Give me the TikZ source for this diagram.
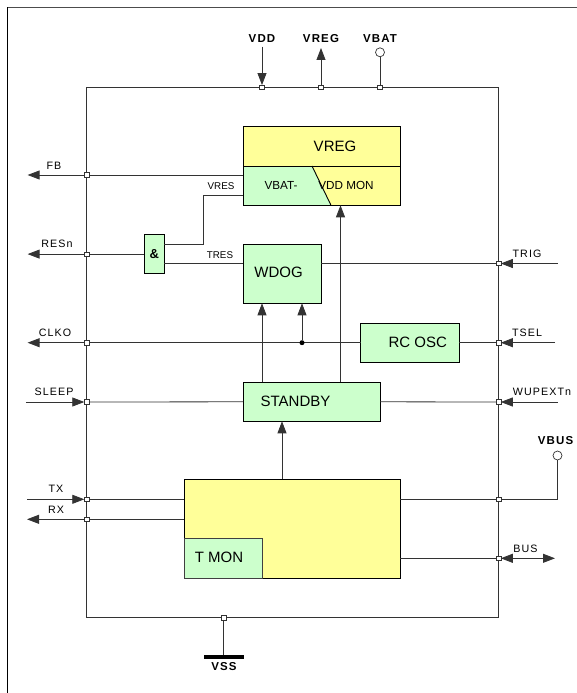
\documentclass[tikz,border=0pt]{standalone}
\usepackage{fontspec}
\setmainfont{Liberation Sans}
\newfontfamily\spacedfont[LetterSpace=10]{Liberation Sans}
\usetikzlibrary{arrows.meta,positioning,calc}
\definecolor{lemon}{HTML}{FFFF99}
\definecolor{mint}{HTML}{CCFFCC}
\definecolor{wire}{HTML}{333333}
\tikzset{
  block/.style={rectangle,draw=black,line width=0.9pt,fill=mint,inner sep=0pt,outer sep=0pt},
  yblock/.style={block,fill=lemon},
  blocktext/.style={font=\fontsize{15}{15}\selectfont,inner sep=0pt},
  midtext/.style={font=\fontsize{11.7}{12}\selectfont,inner sep=0pt},
  pinlabel/.style={font=\spacedfont\fontsize{10.7}{11}\selectfont,inner sep=0pt},
  tinylabel/.style={font=\fontsize{9.8}{10}\selectfont,inner sep=0pt},
  supply/.style={font=\spacedfont\bfseries\fontsize{11.5}{12}\selectfont,inner sep=0pt},
  wireline/.style={draw=wire,line width=0.8pt},
  arrow/.style={wireline,-{Triangle[length=12pt,width=9pt]}},
  biarrow/.style={wireline,{Triangle[length=12pt,width=9pt]}-{Triangle[length=12pt,width=9pt]}},
  junct/.style={rectangle,draw=wire,fill=white,line width=0.6pt,minimum size=4.5pt,inner sep=0pt,outer sep=0pt},
  pinring/.style={circle,draw=wire,fill=white,line width=0.7pt,minimum size=9pt,inner sep=0pt,outer sep=0pt},
  dotnode/.style={circle,fill=black,minimum size=5pt,inner sep=0pt}
}

\begin{document}
\begin{tikzpicture}[x=1pt,y=-1pt]
  \useasboundingbox (0,0) rectangle (577,693);
  % page frame
  \draw[line width=1.5pt,black!70] (577,7.3) -- (7.3,7.3);
  \draw[line width=1.5pt,black] (7.3,7.3) -- (7.3,693);

  % chip outline
  \node[rectangle,draw=wire,line width=0.8pt,minimum width=412pt,minimum height=530.4pt,inner sep=0pt,outer sep=0pt] (chip) at (292.55,352.5) {};

  % blocks
  \node[yblock,minimum width=157pt,minimum height=78.6pt] (vreg) at (321.5,166) {};
  \fill[mint] (vreg.west) -- ($(vreg.center)+(-9.5,0)$) -- ($(vreg.south)+(9.5,0)$) -- (vreg.south west) -- cycle;
  \draw[line width=0.9pt] (vreg.west) -- (vreg.east);
  \draw[line width=0.9pt] ($(vreg.center)+(-9.5,0)$) -- ($(vreg.south)+(9.5,0)$);
  \draw[line width=0.9pt] (vreg.north west) rectangle (vreg.south east);
  \node[blocktext] (vregtxt) at (335,146.7) {VREG};
  \node[midtext] (vbattxt) at (281,185.7) {VBAT-};
  \node[midtext] (vddmontxt) at (346,185.7) {VDD MON};

  \node[block,minimum width=20pt,minimum height=38.8pt,font=\bfseries\fontsize{13}{13}\selectfont] (andg) at (154.4,254.1) {\&};
  \node[block,minimum width=78pt,minimum height=59pt] (wdog) at (282,273.8) {};
  \node[blocktext] (wdogtxt) at (278.6,272.3) {WDOG};
  \node[block,minimum width=98.7pt,minimum height=39.3pt] (rcosc) at (410,342.7) {};
  \node[blocktext] (rcosctxt) at (417.7,342.7) {RC OSC};
  \node[block,minimum width=137pt,minimum height=39pt] (standby) at (311.5,401.8) {};
  \node[blocktext] (standbytxt) at (295.5,401) {STANDBY};
  \node[yblock,minimum width=216.4pt,minimum height=99pt] (trx) at (292.2,528.8) {};
  \node[block,draw=black!75,minimum width=78.4pt,minimum height=39.6pt,anchor=south west] (tmon) at (trx.south west) {};
  \node[blocktext] (tmontxt) at (219,557.7) {T MON};

  % pin ends
  \coordinate (vddin) at (262,46.7);
  \coordinate (vregout) at (321,48);
  \node[pinring] (vbatpin) at (380,52.3) {};
  \coordinate (fbout) at (27.6,175);
  \coordinate (resout) at (27.6,254.1);
  \coordinate (clkout) at (27.6,342.7);
  \coordinate (sleepin) at (25.8,402);
  \coordinate (txin) at (27,499.3);
  \coordinate (rxout) at (27,519.3);
  \coordinate (trigin) at (557.5,263.5);
  \coordinate (tselin) at (555,342.7);
  \coordinate (wupin) at (557.5,402);
  \node[pinring] (vbuspin) at (557.5,455.5) {};
  \coordinate (busio) at (555,558.3);
  \node[rectangle,fill=black,minimum width=39.6pt,minimum height=4pt,inner sep=0pt,outer sep=0pt] (vssbar) at (223.8,657.3) {};

  % junctions on the chip edge
  \node[junct] (jvdd) at (262,87.3) {};
  \node[junct] (jvreg) at (321,87.3) {};
  \node[junct] (jvbat) at (380,87.3) {};
  \node[junct] (jfb) at (chip.west |- fbout) {};
  \node[junct] (jres) at (chip.west |- resout) {};
  \node[junct] (jclk) at (chip.west |- clkout) {};
  \node[junct] (jsleep) at (chip.west |- sleepin) {};
  \node[junct] (jtx) at (chip.west |- txin) {};
  \node[junct] (jrx) at (chip.west |- rxout) {};
  \node[junct] (jtrig) at (chip.east |- trigin) {};
  \node[junct] (jtsel) at (chip.east |- tselin) {};
  \node[junct] (jwup) at (chip.east |- wupin) {};
  \node[junct] (jvbus) at (chip.east |- 0,499.3) {};
  \node[junct] (jbus) at (chip.east |- busio) {};
  \node[junct] (jvss) at (chip.south -| vssbar) {};

  % supply
  \draw[arrow] (vddin) -- (jvdd.north);
  \draw[arrow] (jvreg.north) -- (vregout);
  \draw[wireline] (jvbat.north) -- (vbatpin.south);
  \draw[wireline] (jvss.south) -- (vssbar.north);

  % left pins
  \draw[arrow] (jfb.west) -- (fbout);
  \draw[wireline] (vreg.west |- jfb) -- (jfb.east);
  \draw[arrow] (jres.west) -- (resout);
  \draw[wireline] (andg.west) -- (jres.east);
  \draw[arrow] (jclk.west) -- (clkout);
  \draw[wireline] (rcosc.west) -- (jclk.east);
  \draw[arrow] (sleepin) -- (jsleep.west);
  \draw[wireline] (jsleep.east) -- (standby.west);
  \draw[arrow] (txin) -- (jtx.west);
  \draw[wireline] (jtx.east) -- (trx.west |- jtx);
  \draw[arrow] (jrx.west) -- (rxout);
  \draw[wireline] (trx.west |- jrx) -- (jrx.east);

  % right pins
  \draw[arrow] (trigin) -- (jtrig.east);
  \draw[wireline] (jtrig.west) -- (wdog.east |- jtrig);
  \draw[arrow] (tselin) -- (jtsel.east);
  \draw[wireline] (jtsel.west) -- (rcosc.east);
  \draw[arrow] (wupin) -- (jwup.east);
  \draw[wireline] (jwup.west) -- (standby.east);
  \draw[wireline] (trx.east |- jvbus) -- (jvbus.west);
  \draw[wireline] (jvbus.east) -| (vbuspin.south);
  \draw[wireline] (trx.east |- jbus) -- (jbus.west);
  \draw[biarrow] (jbus.east) -- (busio);

  % internal signals
  \draw[wireline] ($(vreg.south west)+(0,-10.3)$) -| ($(andg.north east)+(39,9.3)$) -- ++(-39,0);
  \draw[wireline] (andg.east) ++(0,9.4) coordinate (tres) -- (tres -| wdog.west);
  \coordinate (montap) at ($(vreg.south)+(19,0)$);
  \draw[arrow] (standby.north -| montap) -- (montap);
  \coordinate (wdogin) at ($(wdog.south)+(-20,0)$);
  \draw[arrow] (standby.north -| wdogin) -- (wdogin);
  \coordinate (clkin) at ($(wdog.south)+(20,0)$);
  \node[dotnode] (clkdot) at (clkin |- rcosc.west) {};
  \draw[arrow] (clkdot) -- (clkin);
  \draw[arrow] (trx.north -| wdog.south) -- (standby.south -| wdog.south);

  % labels
  \node[supply] (vddlbl) at (262,39) {VDD};
  \node[supply] (vreglbl) at (321,39) {VREG};
  \node[supply] (vbatlbl) at (380,39) {VBAT};
  \node[supply] (vbuslbl) at (555.5,441) {VBUS};
  \node[supply] (vsslbl) at (224,666.5) {VSS};
  \node[pinlabel] (fblbl) at (54,165.7) {FB};
  \node[pinlabel] (reslbl) at (57,244) {RESn};
  \node[pinlabel] (clklbl) at (55,333.3) {CLKO};
  \node[pinlabel] (sleeplbl) at (54,392.3) {SLEEP};
  \node[pinlabel] (txlbl) at (56,489.3) {TX};
  \node[pinlabel] (rxlbl) at (56,510) {RX};
  \node[pinlabel] (triglbl) at (527,254.3) {TRIG};
  \node[pinlabel] (tsellbl) at (527,333.3) {TSEL};
  \node[pinlabel] (wuplbl) at (542,392.3) {WUPEXTn};
  \node[pinlabel] (buslbl) at (525.5,548.7) {BUS};
  \node[tinylabel] (vreslbl) at (221,185.7) {VRES};
  \node[tinylabel] (treslbl) at (220,255) {TRES};
\end{tikzpicture}
\end{document}
